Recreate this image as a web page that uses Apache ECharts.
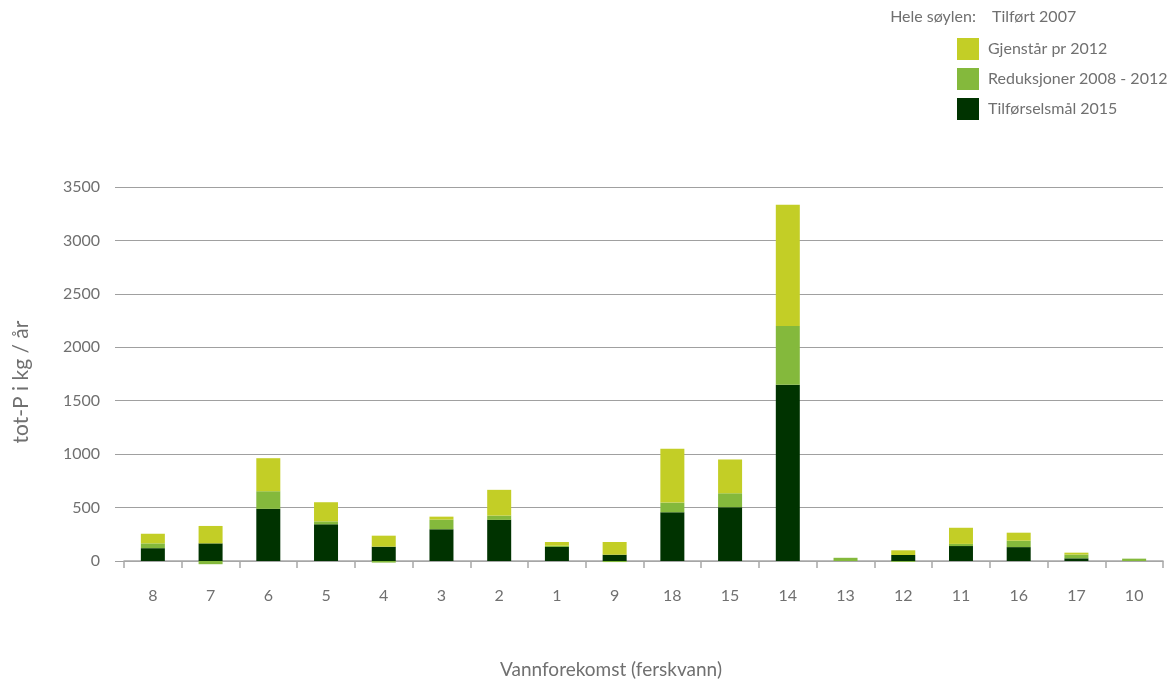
<!DOCTYPE html>
<html>
<head>
<meta charset="utf-8">
<script src="https://cdn.jsdelivr.net/npm/echarts@6/dist/echarts.min.js"></script>
<style>
html,body{margin:0;padding:0;background:#fff;}
#main{width:1169px;height:681px;}
</style>
</head>
<body>
<div id="main"></div>
<script>
const categories = ['8','7','6','5','4','3','2','1','9','18','15','14','13','12','11','16','17','10'];
const tilforselsmal2015 = [120,165,488,343,134,297,385,131,59,456,503,1650,0,56,140,130,25,0];
const reduksjoner = [45,-30,165,28,-15,90,40,12,-10,91,131,550,30,-8,20,60,35,22];
const gjenstar2012 = [90,163,309,179,103,28,241,35,119,503,316,1135,0,44,151,75,18,0];
const yTicks = {min:0, max:3500, interval:500};

const FONT = 'Lato, "Open Sans", "DejaVu Sans", sans-serif';
const TXT = '#707070';
const cDark = '#003300', cGreen = '#84B93C', cYellow = '#C3CE26';

const chart = echarts.init(document.getElementById('main'), null, {renderer:'canvas'});
const option = {
  backgroundColor:'#fff',
  animation:false,
  grid:[
    {left:115, right:6, top:187, bottom:120},
    {left:124, right:6, top:187, bottom:120}
  ],
  legend:{
    left:957, top:38, orient:'vertical', itemWidth:22, itemHeight:22, itemGap:8, padding:0,
    icon:'rect', selectedMode:false,
    data:['Gjenstår pr 2012','Reduksjoner 2008 - 2012','Tilførselsmål 2015'],
    textStyle:{fontFamily:FONT, fontSize:16, color:TXT, padding:[0,0,0,4]}
  },
  xAxis:[
    {gridIndex:0, type:'category', data:categories, show:false},
    {gridIndex:1, type:'category', data:categories,
     axisLine:{show:true, lineStyle:{color:'#a8a8a8', width:1.5}},
     axisTick:{show:true, length:7, lineStyle:{color:'#a8a8a8', width:1.5}},
     axisLabel:{fontFamily:FONT, fontSize:16, color:TXT, margin:27}}
  ],
  yAxis:[
    {gridIndex:0, type:'value', min:yTicks.min, max:yTicks.max, interval:yTicks.interval,
     axisLine:{show:false}, axisTick:{show:false},
     axisLabel:{fontFamily:FONT, fontSize:16, color:TXT, margin:15, formatter:function(v){return String(v);}},
     splitLine:{lineStyle:{color:'#a0a0a0', width:1}}},
    {gridIndex:1, type:'value', min:yTicks.min, max:yTicks.max, interval:yTicks.interval,
     show:false, splitLine:{show:false}}
  ],
  series:[
    {name:'Tilførselsmål 2015', type:'bar', stack:'s', xAxisIndex:1, yAxisIndex:1, barWidth:24, clip:false,
     itemStyle:{color:cDark}, data:tilforselsmal2015},
    {name:'Reduksjoner 2008 - 2012', type:'bar', stack:'s', xAxisIndex:1, yAxisIndex:1, barWidth:24, clip:false,
     itemStyle:{color:cGreen}, data:reduksjoner},
    {name:'Gjenstår pr 2012', type:'bar', stack:'s', xAxisIndex:1, yAxisIndex:1, barWidth:24, clip:false,
     itemStyle:{color:cYellow}, data:gjenstar2012}
  ],
  graphic:[
    {type:'text', right:1169-976, top:9,
     style:{text:'Hele søylen:', font:'16px '+FONT, fill:TXT}},
    {type:'text', left:992, top:9,
     style:{text:'Tilført 2007', font:'16px '+FONT, fill:TXT}},
    {type:'text', x:611, y:670,
     style:{text:'Vannforekomst (ferskvann)', font:'19px '+FONT, fill:TXT, textAlign:'center', textVerticalAlign:'middle'}},
    {type:'text', x:21, y:382, rotation:Math.PI/2,
     style:{text:'tot-P i kg / år', font:'21px '+FONT, fill:TXT, textAlign:'center', textVerticalAlign:'middle'}}
  ]
};
chart.setOption(option);
</script>
</body>
</html>
